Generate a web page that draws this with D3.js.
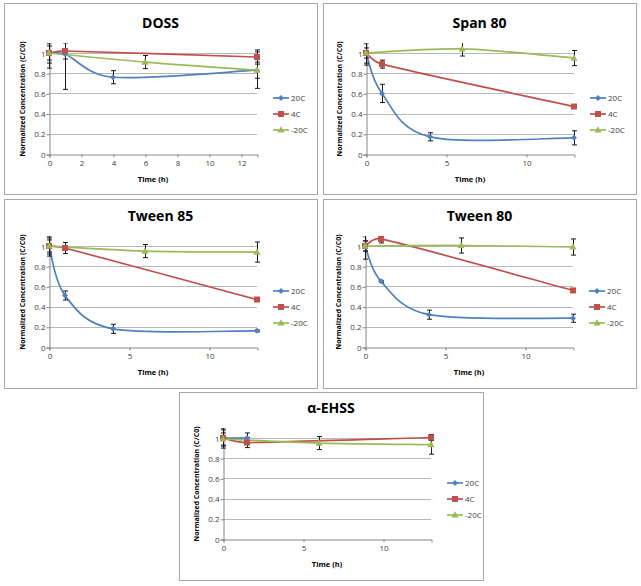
<!DOCTYPE html>
<html><head><meta charset="utf-8">
<script src="https://cdn.jsdelivr.net/npm/d3@7"></script>
<style>body{margin:0;background:#fff}svg{display:block}</style>
</head><body><svg id="c" width="641" height="586"></svg>
<script>
const panelTitles = ["DOSS", "Span 80", "Tween 85", "Tween 80", "α-EHSS"];
const seriesNames = ["20C", "4C", "-20C"];
const seriesColors = ["#4F81BD", "#C0504D", "#9BBB59"];
const yTicks = [0, 0.2, 0.4, 0.6, 0.8, 1];
const xTicksDoss = [0, 2, 4, 6, 8, 10, 12];
const xTicksOther = [0, 5, 10];
// each row: [time (h), C/C0, error]
const doss20C  = [[0,1.00,0.10],[1,0.99,0.35],[4,0.76,0.065],[13,0.83,0.08]];
const doss4C   = [[0,1.00,0.07],[1,1.02,0.08],[13,0.96,0.07]];
const dossM20C = [[0,1.00,0.15],[6,0.91,0.065],[13,0.83,0.18]];
const span20C  = [[0,1.00,0.10],[1,0.60,0.09],[4,0.17,0.04],[13,0.16,0.07]];
const span4C   = [[0,1.00,0.05],[1,0.89,0.04],[13,0.47,0.01]];
const spanM20C = [[0,1.00,0.12],[6,1.04,0.07],[13,0.95,0.075]];
const tw85_20C  = [[0,1.00,0.08],[1,0.51,0.045],[4,0.18,0.045],[13,0.16,0.01]];
const tw85_4C   = [[0,1.00,0.10],[1,0.98,0.055],[13,0.47,0.01]];
const tw85_M20C = [[0,1.00,0.06],[6,0.95,0.065],[13,0.94,0.10]];
const tw80_20C  = [[0,1.00,0.13],[1,0.65,0.01],[4,0.32,0.045],[13,0.285,0.04]];
const tw80_4C   = [[0,1.00,0.05],[1,1.07,0.04],[13,0.56,0.02]];
const tw80_M20C = [[0,1.00,0.05],[6,1.005,0.075],[13,0.99,0.08]];
const ehss20C  = [[0,1.00,0.10],[1.5,1.00,0.05]];
const ehss4C   = [[0,1.00,0.08],[1.5,0.955,0.05],[13,1.005,0.03]];
const ehssM20C = [[0,0.99,0.06],[6,0.95,0.065],[13,0.935,0.095]];

const panelSeries = [
  [doss20C, doss4C, dossM20C],
  [span20C, span4C, spanM20C],
  [tw85_20C, tw85_4C, tw85_M20C],
  [tw80_20C, tw80_4C, tw80_M20C],
  [ehss20C, ehss4C, ehssM20C]
];
const panelXTicks = [xTicksDoss, xTicksOther, xTicksOther, xTicksOther, xTicksOther];

// layout
const boxes = [[4,3,317,194],[323,3,636,194],[4,199,317,388],[323,199,636,388],[179,392,483,580]];
const plotOrigins = [[49,154],[366,154],[49,347],[365,347],[223,539]];
const PXH = 16, PXU = 101;

const font = "'Open Sans', 'Liberation Sans', sans-serif";
const svg = d3.select("#c");

// Excel-style smoothed line (Bezier with limited tangents)
function smoothPath(pts) {
  const p = d3.path();
  const n = pts.length;
  const dist = (a, b) => Math.hypot(b[0] - a[0], b[1] - a[1]);
  const f = 1 / 6;
  p.moveTo(pts[0][0], pts[0][1]);
  for (let i = 0; i < n - 1; i++) {
    const P0 = pts[Math.max(i - 1, 0)], P1 = pts[i], P2 = pts[i + 1], P3 = pts[Math.min(i + 2, n - 1)];
    const d02 = dist(P0, P2), d12 = dist(P1, P2), d13 = dist(P1, P3);
    const f1 = (d02 * f < d12 / 2 || d02 === 0) ? f : d12 / (2 * d02);
    const f2 = (d13 * f < d12 / 2 || d13 === 0) ? f : d12 / (2 * d13);
    const c1 = [P1[0] + (P2[0] - P0[0]) * f1, P1[1] + (P2[1] - P0[1]) * f1];
    const c2 = [P2[0] - (P3[0] - P1[0]) * f2, P2[1] - (P3[1] - P1[1]) * f2];
    p.bezierCurveTo(c1[0], c1[1], c2[0], c2[1], P2[0], P2[1]);
  }
  return p.toString();
}

panelTitles.forEach((title, pi) => {
  const [bx0, by0, bx1, by1] = boxes[pi];
  const [left, bottom] = plotOrigins[pi];
  const g = svg.append("g");
  g.append("rect").attr("x", bx0 + 0.5).attr("y", by0 + 0.5)
    .attr("width", bx1 - bx0).attr("height", by1 - by0)
    .attr("fill", "#fff").attr("stroke", "#a6a6a6").attr("stroke-width", 1);

  const x = d3.scaleLinear().domain([0, 13]).range([left, left + 13 * PXH]);
  const y = d3.scaleLinear().domain([0, 1.1]).range([bottom, bottom - 1.1 * PXU]);

  // grid
  g.selectAll(".grid").data(yTicks.filter(t => t > 0)).join("line")
    .attr("x1", left).attr("x2", x(13))
    .attr("y1", d => Math.round(y(d)) + 0.5).attr("y2", d => Math.round(y(d)) + 0.5)
    .attr("stroke", "#b8b8b8").attr("stroke-width", 1);

  // axes
  const yAxis = d3.axisLeft(y).tickValues(yTicks).tickSize(3).tickFormat(d3.format("~g"));
  const ya = g.append("g").attr("transform", `translate(${left + 0.5},0.5)`).call(yAxis);
  const xAxis = d3.axisBottom(x).tickValues(panelXTicks[pi]).tickSize(3).tickFormat(d3.format("d"));
  const xa = g.append("g").attr("transform", `translate(0.5,${bottom + 0.5})`).call(xAxis);
  [ya, xa].forEach(a => {
    a.select(".domain").attr("stroke", "#868686");
    a.selectAll(".tick line").attr("stroke", "#868686");
    a.selectAll("text").attr("fill", "#404040").attr("font-family", font).attr("font-size", 8);
  });
  ya.selectAll("text").attr("x", -4);
  xa.selectAll("text").attr("y", 6);

  // clip
  const cid = "clip" + pi;
  g.append("clipPath").attr("id", cid).append("rect")
    .attr("x", left - 10).attr("y", y(1.1)).attr("width", 13 * PXH + 20).attr("height", bottom - y(1.1) + 10);
  const pg = g.append("g").attr("clip-path", `url(#${cid})`);

  const series = panelSeries[pi];
  series.forEach((data, si) => {
    pg.append("path").attr("d", smoothPath(data.map(d => [x(d[0]), y(d[1])]))).attr("fill", "none")
      .attr("stroke", seriesColors[si]).attr("stroke-width", 1.7);
  });
  // error bars
  series.forEach((data, si) => {
    const eb = pg.append("g").attr("stroke", "#1a1a1a").attr("stroke-width", 1);
    data.forEach(d => {
      const cx = Math.round(x(d[0])) + 0.5;
      const yt = y(d[1] + d[2]), yb = y(d[1] - d[2]);
      eb.append("line").attr("x1", cx).attr("x2", cx).attr("y1", yt).attr("y2", yb);
      eb.append("line").attr("x1", cx - 2.5).attr("x2", cx + 2.5).attr("y1", yt).attr("y2", yt);
      eb.append("line").attr("x1", cx - 2.5).attr("x2", cx + 2.5).attr("y1", yb).attr("y2", yb);
    });
  });
  // markers
  const drawMarker = (sel, si, cx, cy) => {
    const c = seriesColors[si];
    if (si === 0) {
      sel.append("path").attr("d", `M${cx},${cy-3}L${cx+3},${cy}L${cx},${cy+3}L${cx-3},${cy}Z`).attr("fill", c);
    } else if (si === 1) {
      sel.append("rect").attr("x", cx - 3).attr("y", cy - 3).attr("width", 6).attr("height", 6).attr("fill", c);
    } else {
      sel.append("path").attr("d", `M${cx},${cy-3.8}L${cx+3.6},${cy+2.6}L${cx-3.6},${cy+2.6}Z`).attr("fill", c);
    }
  };
  series.forEach((data, si) => {
    data.forEach(d => drawMarker(pg, si, x(d[0]), y(d[1])));
  });

  // title
  g.append("text").attr("x", (bx0 + bx1) / 2).attr("y", bottom - 126)
    .attr("text-anchor", "middle").attr("font-family", font).attr("font-weight", "bold")
    .attr("font-size", 14).attr("fill", "#000").text(title);
  // axis titles
  g.append("text").attr("x", x(6.5)).attr("y", bottom + 28).attr("text-anchor", "middle")
    .attr("font-family", font).attr("font-weight", "bold").attr("font-size", 7.5).attr("fill", "#000")
    .text("Time (h)");
  g.append("text").attr("transform", `translate(${left - 24},${bottom - 55}) rotate(-90)`)
    .attr("text-anchor", "middle").attr("font-family", font).attr("font-weight", "bold")
    .attr("font-size", 7).attr("fill", "#000").text("Normalized Concentration (C/C0)");

  // legend
  seriesNames.forEach((nm, si) => {
    const ly = bottom - 56 + si * 16;
    const lx = left + 224;
    g.append("line").attr("x1", lx).attr("x2", lx + 16).attr("y1", ly).attr("y2", ly)
      .attr("stroke", seriesColors[si]).attr("stroke-width", 1.7);
    drawMarker(g, si, lx + 8, ly);
    g.append("text").attr("x", lx + 18).attr("y", ly + 3).attr("font-family", font)
      .attr("font-size", 8).attr("fill", "#404040").text(nm);
  });
});
</script></body></html>
